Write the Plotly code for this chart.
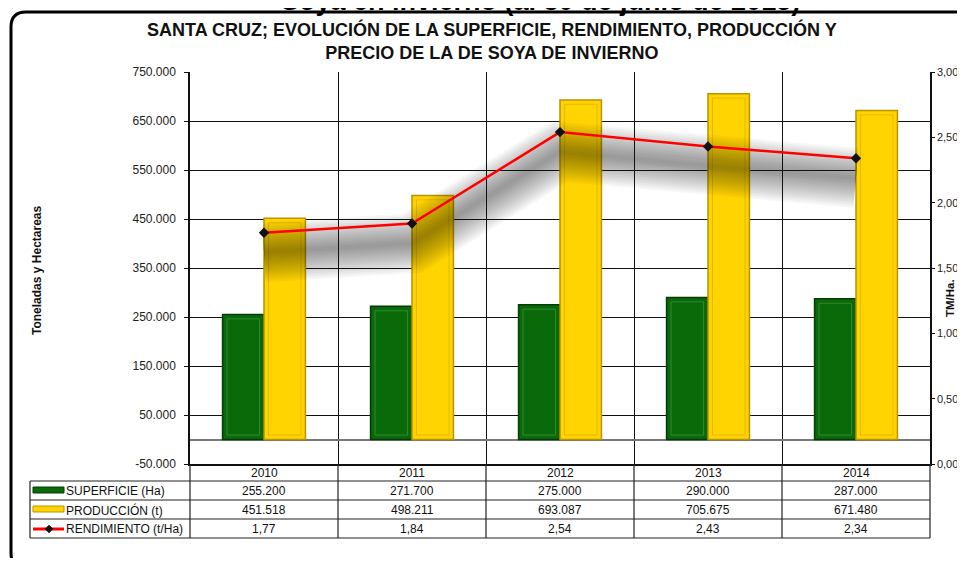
import plotly.graph_objects as go

# ---------------- data ----------------
years = ["2010", "2011", "2012", "2013", "2014"]
superficie = [255200, 271700, 275000, 290000, 287000]
produccion = [451518, 498211, 693087, 705675, 671480]
rendimiento = [1.77, 1.84, 2.54, 2.43, 2.34]
left_ticks = [-50000, 50000, 150000, 250000, 350000, 450000, 550000, 650000, 750000]
right_ticks = [0.0, 0.5, 1.0, 1.5, 2.0, 2.5, 3.0]
series_labels = ["SUPERFICIE (Ha)", "PRODUCCIÓN (t)", "RENDIMIENTO (t/Ha)"]
title_top = "Soya en invierno (al 30 de junio de 2015)"
title_main = "SANTA CRUZ; EVOLUCIÓN DE LA SUPERFICIE, RENDIMIENTO, PRODUCCIÓN Y<br>PRECIO DE LA DE SOYA DE INVIERNO"
y_title = "Toneladas y Hectareas"
y2_title = "TM/Ha."


def fmt_int(v):
    return f"{v:,}".replace(",", ".")


def fmt_dec(v):
    return f"{v:.2f}".replace(".", ",")


# ---------------- geometry (page pixels; page has 8px body margin) ----------------
OFF = 8
W, H = 965 - 2 * OFF, 566 - 2 * OFF   # figure size so the page fits the window exactly
L, R, T, B = 190, 930, 72, 464        # plot area in page pixels


def px(x):
    return (x - L) / (R - L)


def py(y):
    return (B - y) / (B - T)


FONT = "Liberation Sans, Arial, sans-serif"

GREEN = "#0A6A0A"
GREEN_EDGE = "#053C05"
GREEN_BEVEL = "#2F8A2F"
YELLOW = "#FFD400"
YELLOW_EDGE = "#B89400"
YELLOW_BEVEL = "#E6B800"

fig = go.Figure()
bw = 0.28
fig.add_bar(x=years, y=superficie, name=series_labels[0], width=bw, offset=-bw,
            marker=dict(color=GREEN, line=dict(color=GREEN_EDGE, width=1.5)))
fig.add_bar(x=years, y=produccion, name=series_labels[1], width=bw, offset=0,
            marker=dict(color=YELLOW, line=dict(color=YELLOW_EDGE, width=1.5)))

# bevel (inner outline) of the bars
ix, iy = 0.03, 9000
fig.add_bar(x=years, y=[v - 2 * iy for v in superficie], base=iy, width=bw - 2 * ix,
            offset=-bw + ix, hoverinfo="skip", showlegend=False,
            marker=dict(color="rgba(0,0,0,0)", line=dict(color=GREEN_BEVEL, width=1)))
fig.add_bar(x=years, y=[v - 2 * iy for v in produccion], base=iy, width=bw - 2 * ix,
            offset=ix, hoverinfo="skip", showlegend=False,
            marker=dict(color="rgba(0,0,0,0)", line=dict(color=YELLOW_BEVEL, width=1)))

# blurred drop shadow of the yield line
shadow_offset = 0.15
shadow_y = [r - shadow_offset for r in rendimiento]
for w in range(60, 2, -4):
    fig.add_scatter(x=years, y=shadow_y, yaxis="y2", mode="lines",
                    line=dict(color="rgba(25,25,25,0.034)", width=w),
                    hoverinfo="skip", showlegend=False)

fig.add_scatter(x=years, y=rendimiento, yaxis="y2", mode="lines+markers",
                name=series_labels[2],
                line=dict(color="#FF0000", width=2.5),
                marker=dict(symbol="diamond", size=8, color="#111111"))

# ---------------- table ----------------
shapes = []
annotations = []
row_lines = [464, 481, 500, 519, 538]
for yl in row_lines[1:]:
    shapes.append(dict(type="line", xref="paper", yref="paper",
                       x0=px(30), x1=px(930), y0=py(yl), y1=py(yl),
                       line=dict(color="#222222", width=1.2)))
ncol = len(years)
for k in range(ncol + 1):
    shapes.append(dict(type="line", xref="paper", yref="paper",
                       x0=k / ncol, x1=k / ncol, y0=py(464), y1=py(538),
                       line=dict(color="#222222", width=1.2)))
shapes.append(dict(type="line", xref="paper", yref="paper",
                   x0=px(30), x1=px(30), y0=py(481), y1=py(538),
                   line=dict(color="#222222", width=1.2)))

row_centers = [(row_lines[i] + row_lines[i + 1]) / 2 for i in range(4)]
cell_font = dict(family=FONT, size=12, color="#111")
for i, yr in enumerate(years):
    cells = [yr, fmt_int(superficie[i]), fmt_int(produccion[i]), fmt_dec(rendimiento[i])]
    for j, txt in enumerate(cells):
        annotations.append(dict(x=(i + 0.5) / ncol, y=py(row_centers[j] + 0.5),
                                xref="paper", yref="paper",
                                xanchor="center", yanchor="middle",
                                text=txt, showarrow=False, font=cell_font))

for j, lab in enumerate(series_labels):
    annotations.append(dict(x=px(64), y=py(row_centers[j + 1] + 0.5), xref="paper", yref="paper",
                            text=lab, showarrow=False, xanchor="left", yanchor="middle",
                            font=cell_font))

# legend keys
shapes.append(dict(type="rect", xref="paper", yref="paper",
                   x0=px(33), x1=px(64), y0=py(487), y1=py(493),
                   fillcolor=GREEN, line=dict(color=GREEN_EDGE, width=1)))
shapes.append(dict(type="rect", xref="paper", yref="paper",
                   x0=px(33), x1=px(64), y0=py(506), y1=py(512),
                   fillcolor=YELLOW, line=dict(color=YELLOW_EDGE, width=1)))
shapes.append(dict(type="line", xref="paper", yref="paper",
                   x0=px(33), x1=px(64), y0=py(529), y1=py(529),
                   line=dict(color="#FF0000", width=3)))
dx, dy = 4, 4
shapes.append(dict(type="path", xref="paper", yref="paper",
                   path=(f"M {px(49 - dx)},{py(529)} L {px(49)},{py(529 - dy)} "
                         f"L {px(49 + dx)},{py(529)} L {px(49)},{py(529 + dy)} Z"),
                   fillcolor="#111111", line=dict(color="#111111", width=0.5)))

# outer rounded frame
r = 15
frame = (f"M {px(990)},{py(12)} L {px(11 + r)},{py(12)} "
         f"Q {px(11)},{py(12)} {px(11)},{py(12 + r)} "
         f"L {px(11)},{py(568 - r)} Q {px(11)},{py(568)} {px(11 + r)},{py(568)} "
         f"L {px(990)},{py(568)}")
shapes.append(dict(type="path", xref="paper", yref="paper", path=frame,
                   line=dict(color="#000000", width=3)))

# titles
annotations.append(dict(x=px(540), y=py(18), xref="paper", yref="paper",
                        xanchor="center", yanchor="bottom",
                        text=f"<b>{title_top}</b>", showarrow=False,
                        font=dict(family=FONT, size=27, color="#000")))
annotations.append(dict(x=px(492), y=py(41), xref="paper", yref="paper",
                        xanchor="center", yanchor="middle",
                        text=f"<b>{title_main}</b>", showarrow=False,
                        font=dict(family=FONT, size=18, color="#111")))
annotations.append(dict(x=px(37), y=py(270), xref="paper", yref="paper",
                        xanchor="center", yanchor="middle",
                        text=f"<b>{y_title}</b>", showarrow=False, textangle=-90,
                        font=dict(family=FONT, size=12, color="#111")))
annotations.append(dict(x=px(950), y=py(298), xref="paper", yref="paper",
                        xanchor="center", yanchor="middle",
                        text=f"<b>{y2_title}</b>", showarrow=False, textangle=-90,
                        font=dict(family=FONT, size=11.5, color="#111")))

fig.update_layout(
    width=W, height=H,
    margin=dict(l=L - OFF, r=W - (R - OFF), t=T - OFF, b=H - (B - OFF), pad=0),
    paper_bgcolor="white", plot_bgcolor="white",
    showlegend=False,
    barmode="overlay",
    shapes=shapes, annotations=annotations,
    xaxis=dict(type="category", range=[-0.5, 4.5], tickson="boundaries",
               showgrid=True, gridcolor="#111111", gridwidth=1,
               showticklabels=False, ticks="", showline=True,
               linecolor="#111111", linewidth=2, zeroline=False, automargin=False),
    yaxis=dict(range=[-50000, 750000], tickvals=left_ticks,
               ticktext=[fmt_int(v) for v in left_ticks],
               showgrid=True, gridcolor="#111111", gridwidth=1,
               zeroline=True, zerolinecolor="#777777", zerolinewidth=1.5,
               showline=True, linecolor="#111111", linewidth=1.5,
               ticks="outside", ticklen=4, tickcolor="#111111",
               ticklabelstandoff=6, automargin=False,
               tickfont=dict(family=FONT, size=12, color="#222")),
    yaxis2=dict(range=[0, 3], overlaying="y", side="right",
                tickvals=right_ticks, ticktext=[fmt_dec(v) for v in right_ticks],
                showgrid=False, zeroline=False,
                showline=True, linecolor="#111111", linewidth=1.5,
                ticks="outside", ticklen=3, tickcolor="#111111",
                ticklabelstandoff=0, automargin=False,
                tickfont=dict(family=FONT, size=11, color="#222")),
)

fig.write_html("out.html")
